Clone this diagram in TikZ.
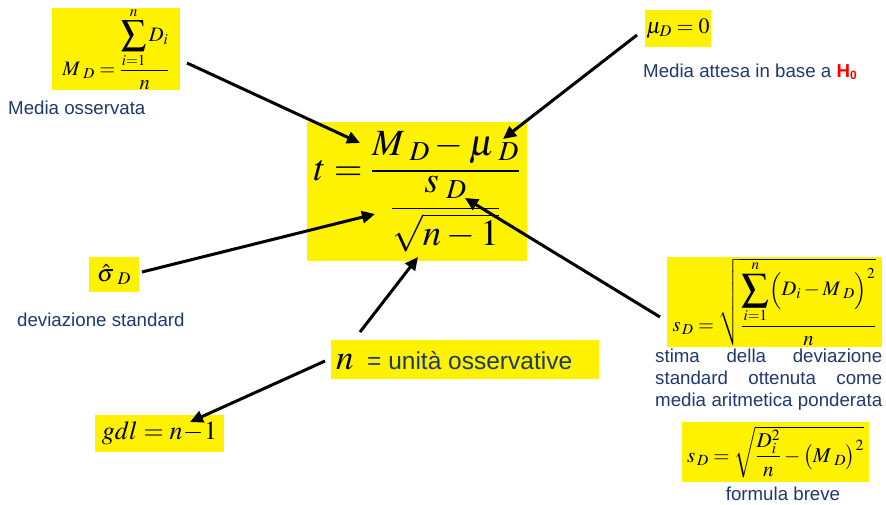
\documentclass[tikz,border=0pt]{standalone}
\usepackage{amsmath}
\usepackage{mathptmx}
\usepackage{graphicx}
\usepackage[no-math]{fontspec}
\newfontfamily\lsans{Liberation Sans}
\usetikzlibrary{arrows.meta}
\definecolor{navy}{RGB}{31,56,110}
\definecolor{hred}{RGB}{255,0,0}
\newcommand{\Lsum}{\mathop{\vcenter{\hbox{\scalebox{1.9}{$\textstyle\sum$}}}}\limits}
\newcommand{\Msum}{\mathop{\vcenter{\hbox{\scalebox{1.75}{$\textstyle\sum$}}}}\limits}
\newcommand{\sD}{\mkern5mu D}
\tikzset{
 ybox/.style={fill=yellow, inner sep=0pt, text=black},
 lbl/.style={font=\lsans\fontsize{18.7}{22}\selectfont, text=navy, inner sep=0pt},
 arr/.style={line width=3pt, -{Triangle[length=13pt,width=12pt]}}
}
\begin{document}
\begin{tikzpicture}[x=1pt,y=-1pt]
\useasboundingbox (0,0) rectangle (886,504);
% boxes
\node[ybox, minimum width=128pt, minimum height=80pt, font=\fontsize{20.5}{24}\selectfont] (md) at (116,49)
  {$M_{\sD}=\dfrac{\Msum_{i=1}^{n}D_{i}}{n}$};
\node[ybox, minimum width=66pt, minimum height=37pt, font=\fontsize{22}{26}\selectfont] (mu) at (678,28.5)
  {$\mu_{D}=0$};
\node[ybox, minimum width=220pt, minimum height=139pt, font=\fontsize{37}{43}\selectfont] (main) at (417,191.5)
  {$t=\dfrac{M_{\sD}-\mu_{\sD}}{\dfrac{s_{\sD}}{\sqrt{n-1}}}$};
\node[ybox, minimum width=50pt, minimum height=35pt, font=\fontsize{24}{28}\selectfont] (sig) at (114,274.5)
  {$\hat{\sigma}_{\mkern6mu D}$};
\node[ybox, minimum width=215pt, minimum height=90pt, font=\fontsize{20.5}{24}\selectfont] (sd) at (774.5,302)
  {$s_{\,D}=\sqrt{\dfrac{\Lsum_{i=1}^{n}\Bigl(D_{i}-M_{\sD}\Bigr)^{2}}{n}}$};
\node[ybox, minimum width=187pt, minimum height=60pt, font=\fontsize{21}{25}\selectfont] (sb) at (775.5,452)
  {$s_{\,D}=\sqrt{\dfrac{D_{i}^{2}}{n}-\bigl(M_{\sD}\bigr)^{2}}$};
\node[ybox, minimum width=268pt, minimum height=39pt] (nb) at (465,359.5) {};
\node[inner sep=0pt, anchor=base west, font=\fontsize{35}{40}\selectfont] (nn) at (336,369) {$n$};
\node[inner sep=0pt, anchor=base west, font=\lsans\fontsize{24.5}{28}\selectfont, text=navy] (nt) at (367,369) {= unità osservative};
\node[ybox, minimum width=129pt, minimum height=37pt, font=\fontsize{26}{30}\selectfont] (gdl) at (159.5,433.5)
  {$gdl=n\!-\!1$};
% labels
\node[lbl, anchor=base west] (l1) at (8,114) {Media osservata};
\node[lbl, anchor=base west] (l2) at (643,77) {Media attesa in base a {\color{hred}\bfseries H\raisebox{-0.3ex}{\fontsize{12}{12}\selectfont 0}}};
\node[lbl, anchor=base west] (l3) at (17,326) {deviazione standard};
\node[lbl, anchor=base west] (l4) at (655,362) {\makebox[227pt][s]{stima della deviazione}};
\node[lbl, anchor=base west] (l5) at (655,384) {\makebox[227pt][s]{standard ottenuta come}};
\node[lbl, anchor=base west] (l6) at (655,406) {\makebox[227pt][s]{media aritmetica ponderata}};
\node[lbl, anchor=base] (l7) at (783,500) {formula breve};
% arrow points
\coordinate (a1) at (187,63);   \coordinate (b1) at (360,143);
\coordinate (a2) at (637,35);   \coordinate (b2) at (503,139);
\coordinate (a3) at (142,272);  \coordinate (b3) at (375,214);
\coordinate (a4) at (660,317);  \coordinate (b4) at (465,198);
\coordinate (a5) at (360,332);  \coordinate (b5) at (418,257);
\coordinate (a6) at (325,361);  \coordinate (b6) at (190,422);
\draw[arr] (a1) -- (b1);
\draw[arr] (a2) -- (b2);
\draw[arr] (a3) -- (b3);
\draw[arr] (a4) -- (b4);
\draw[arr] (a5) -- (b5);
\draw[arr] (a6) -- (b6);
\end{tikzpicture}
\end{document}
